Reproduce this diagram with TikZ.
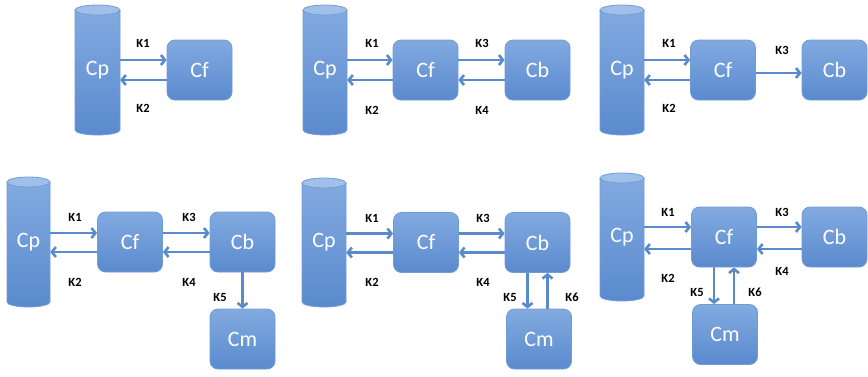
\documentclass[tikz,border=0pt]{standalone}
\usepackage{fontspec}
\setmainfont{Carlito}
\usetikzlibrary{arrows.meta}
\definecolor{cTop}{RGB}{130,170,224}
\definecolor{cBot}{RGB}{90,138,206}
\definecolor{cLine}{RGB}{112,156,214}
\definecolor{cEnd}{RGB}{160,192,234}
\definecolor{cArr}{RGB}{88,138,204}
\tikzset{
  box/.style={rectangle, rounded corners=8pt, draw=cLine, line width=0.8pt,
    top color=cTop, bottom color=cBot, text=white, font=\fontsize{22}{22}\selectfont,
    minimum width=65pt, minimum height=60pt, inner sep=0pt},
  cyltext/.style={rectangle, inner sep=0pt, text=white, font=\fontsize{22}{22}\selectfont},
  arr/.style={draw=cArr, line width=2.6pt, -{Straight Barb[length=4pt,width=10pt]}},
  klab/.style={font=\fontsize{12.5}{12.5}\selectfont\bfseries, text=black, inner sep=0pt}
}
\newcommand\mycyl[5]{%
  \pgfmathsetmacro\rx{(#3-#2)/2}%
  \pgfmathsetmacro\cx{(#2+#3)/2}%
  \pgfmathsetmacro\cy{(#4+#5)/2}%
  \pgfmathsetmacro\cw{#3-#2}%
  \pgfmathsetmacro\ch{#5-#4}%
  \shadedraw[top color=cTop, bottom color=cBot, draw=cLine, line width=0.8pt]
    (#2,#4+5) -- (#2,#5-5) arc[start angle=180,end angle=360,x radius=\rx pt,y radius=5pt] -- (#3,#4+5) -- cycle;
  \filldraw[fill=cEnd, draw=cLine, line width=0.8pt] (\cx,#4+5) ellipse[x radius=\rx pt, y radius=5pt];
  \node[cyltext, minimum width=\cw pt, minimum height=\ch pt] (#1) at (\cx,\cy) {\raisebox{-5pt}{Cp}};
}
\begin{document}
\begin{tikzpicture}[x=1pt,y=-1pt]
\useasboundingbox (0,0) rectangle (868,376);
% ---------- Panel 1
\mycyl{cpA}{75}{120}{5}{135}
\node[box] (cfA) at (199.5,70) {Cf};
\draw[arr] ([yshift=10pt]cpA.east) -- ([yshift=10pt]cfA.west);
\draw[arr] ([yshift=-10pt]cfA.west) -- ([yshift=-10pt]cpA.east);
\node[klab] (k1A) at (143,43) {K1};
\node[klab] (k2A) at (143,108) {K2};
% ---------- Panel 2
\mycyl{cpB}{303}{347}{5}{135}
\node[box] (cfB) at (425.5,70) {Cf};
\node[box] (cbB) at (537.5,70) {Cb};
\draw[arr] ([yshift=10pt]cpB.east) -- ([yshift=10pt]cfB.west);
\draw[arr] ([yshift=-10pt]cfB.west) -- ([yshift=-10pt]cpB.east);
\draw[arr] ([yshift=10pt]cfB.east) -- ([yshift=10pt]cbB.west);
\draw[arr] ([yshift=-10pt]cbB.west) -- ([yshift=-10pt]cfB.east);
\node[klab] (k1B) at (372,43) {K1};
\node[klab] (k2B) at (372,110) {K2};
\node[klab] (k3B) at (482,43) {K3};
\node[klab] (k4B) at (482,110) {K4};
% ---------- Panel 3
\mycyl{cpC}{600}{644}{5}{135}
\node[box] (cfC) at (723,70) {Cf};
\node[box] (cbC) at (834.5,70) {Cb};
\draw[arr] ([yshift=10pt]cpC.east) -- ([yshift=10pt]cfC.west);
\draw[arr] ([yshift=-10pt]cfC.west) -- ([yshift=-10pt]cpC.east);
\draw[arr] ([yshift=-3pt]cfC.east) -- ([yshift=-3pt]cbC.west);
\node[klab] (k1C) at (669,43) {K1};
\node[klab] (k2C) at (669,108) {K2};
\node[klab] (k3C) at (782,50) {K3};
% ---------- Panel 4
\mycyl{cpD}{7}{50}{177}{307}
\node[box] (cfD) at (130,242) {Cf};
\node[box] (cbD) at (242.5,242) {Cb};
\node[box] (cmD) at (242.5,339) {Cm};
\draw[arr] ([yshift=9pt]cpD.east) -- ([yshift=9pt]cfD.west);
\draw[arr] ([yshift=-10pt]cfD.west) -- ([yshift=-10pt]cpD.east);
\draw[arr] ([yshift=9pt]cfD.east) -- ([yshift=9pt]cbD.west);
\draw[arr] ([yshift=-10pt]cbD.west) -- ([yshift=-10pt]cfD.east);
\draw[arr] (cbD.south) -- (cmD.north);
\node[klab] (k1D) at (75,217) {K1};
\node[klab] (k2D) at (75,282) {K2};
\node[klab] (k3D) at (189,217) {K3};
\node[klab] (k4D) at (189,282) {K4};
\node[klab] (k5D) at (220,297) {K5};
% ---------- Panel 5
\mycyl{cpE}{302}{346}{178}{307}
\node[box] (cfE) at (426,242.5) {Cf};
\node[box] (cbE) at (537.5,242.5) {Cb};
\node[box] (cmE) at (539,339) {Cm};
\draw[arr] ([yshift=9pt]cpE.east) -- ([yshift=9pt]cfE.west);
\draw[arr] ([yshift=-10pt]cfE.west) -- ([yshift=-10pt]cpE.east);
\draw[arr] ([yshift=9pt]cfE.east) -- ([yshift=9pt]cbE.west);
\draw[arr] ([yshift=-10pt]cbE.west) -- ([yshift=-10pt]cfE.east);
\draw[arr] ([xshift=-10pt]cbE.south) -- ([xshift=-10pt]cbE.south |- cmE.north);
\draw[arr] ([xshift=10pt]cbE.south |- cmE.north) -- ([xshift=10pt]cbE.south);
\node[klab] (k1E) at (372,218) {K1};
\node[klab] (k2E) at (372,282) {K2};
\node[klab] (k3E) at (483,218) {K3};
\node[klab] (k4E) at (483,282) {K4};
\node[klab] (k5E) at (510,297) {K5};
\node[klab] (k6E) at (572,297) {K6};
% ---------- Panel 6
\mycyl{cpF}{600}{644}{173}{301}
\node[box] (cfF) at (724,237) {Cf};
\node[box] (cbF) at (834.5,237) {Cb};
\node[box] (cmF) at (725,334.5) {Cm};
\draw[arr] ([yshift=10pt]cpF.east) -- ([yshift=10pt]cfF.west);
\draw[arr] ([yshift=-12pt]cfF.west) -- ([yshift=-12pt]cpF.east);
\draw[arr] ([yshift=10pt]cfF.east) -- ([yshift=10pt]cbF.west);
\draw[arr] ([yshift=-12pt]cbF.west) -- ([yshift=-12pt]cfF.east);
\draw[arr] ([xshift=-10pt]cfF.south) -- ([xshift=-10pt]cfF.south |- cmF.north);
\draw[arr] ([xshift=10pt]cfF.south |- cmF.north) -- ([xshift=10pt]cfF.south);
\node[klab] (k1F) at (668,212) {K1};
\node[klab] (k2F) at (668,278) {K2};
\node[klab] (k3F) at (782,212) {K3};
\node[klab] (k4F) at (782,271) {K4};
\node[klab] (k5F) at (697,292) {K5};
\node[klab] (k6F) at (755,292) {K6};
\end{tikzpicture}
\end{document}
